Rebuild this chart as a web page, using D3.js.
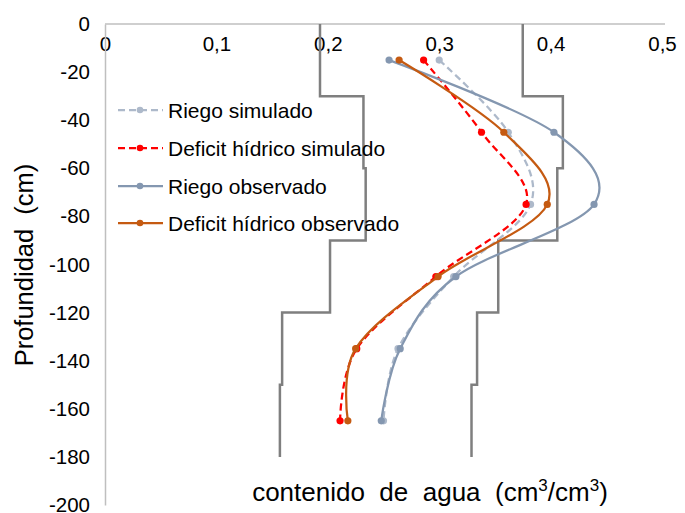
<!DOCTYPE html>
<html>
<head>
<meta charset="utf-8">
<script src="https://cdn.jsdelivr.net/npm/d3@7"></script>
<style>
  html, body { margin: 0; padding: 0; background: #fff; }
  svg { display: block; font-family: "Liberation Sans", Arial, sans-serif; }
</style>
</head>
<body>
<svg id="chart" width="685" height="513"></svg>
<script>
// Soil water content profiles: depth (cm) vs volumetric water content (cm3/cm3)
const depths = [-15, -45, -75, -105, -135, -165];
const riegoSimulado = [0.300, 0.362, 0.382, 0.313, 0.263, 0.250];
const deficitSimulado = [0.286, 0.338, 0.378, 0.297, 0.226, 0.211];
const riegoObservado = [0.255, 0.403, 0.439, 0.315, 0.265, 0.248];
const deficitObservado = [0.264, 0.358, 0.397, 0.299, 0.225, 0.218];

// Layer limits (lower and upper water content per 30 cm soil layer)
const layerTops = [0, -30, -60, -90, -120, -150];
const layerBottoms = [-30, -60, -90, -120, -150, -180];
const limiteInferior = [0.193, 0.232, 0.234, 0.202, 0.159, 0.157];
const limiteSuperior = [0.375, 0.411, 0.406, 0.353, 0.334, 0.329];

const xTicks = [0, 0.1, 0.2, 0.3, 0.4, 0.5];
const yTicks = [0, -20, -40, -60, -80, -100, -120, -140, -160, -180, -200];

const seriesNames = ["Riego simulado", "Deficit hídrico simulado", "Riego observado", "Deficit hídrico observado"];
const seriesValues = [riegoSimulado, deficitSimulado, riegoObservado, deficitObservado];
const seriesColors = ["#ADB9CA", "#FF0000", "#8497B0", "#C55A11"];
const seriesDashed = [true, true, false, false];

const svg = d3.select("#chart");
const x = d3.scaleLinear().domain([0, 0.5]).range([105, 662]);
const y = d3.scaleLinear().domain([0, -200]).range([24, 505]);

const fmt = d => d === 0 ? "0" : d.toFixed(1).replace(".", ",");

// Axes
const xAxis = svg.append("g")
  .attr("transform", `translate(0,${y(0)})`)
  .call(d3.axisBottom(x).tickValues(xTicks).tickFormat(fmt).tickSize(0).tickPadding(12));
xAxis.select(".domain").attr("stroke", "#BFBFBF").attr("stroke-width", 1.5).attr("d", `M${x(0)},0H${x(0.5) + 3}`);
xAxis.selectAll("text").attr("font-size", 20.5).attr("fill", "#000").attr("font-family", "Liberation Sans, Arial, sans-serif");

const yAxis = svg.append("g")
  .attr("transform", `translate(${x(0)},0)`)
  .call(d3.axisLeft(y).tickValues(yTicks).tickFormat(d3.format("d")).tickSize(0).tickPadding(15));
yAxis.select(".domain").attr("stroke", "#BFBFBF").attr("stroke-width", 1.5);
yAxis.selectAll("text").attr("font-size", 20.5).attr("fill", "#000").attr("font-family", "Liberation Sans, Arial, sans-serif")
  .text(d => d === 0 ? "0" : "-" + Math.abs(d));

// Stepped layer limits
function stepPoints(vals) {
  const pts = [];
  vals.forEach((v, i) => {
    pts.push([v, layerTops[i]]);
    pts.push([v, layerBottoms[i]]);
  });
  return pts;
}
const stepLine = d3.line().x(d => x(d[0])).y(d => y(d[1]));
[limiteInferior, limiteSuperior].forEach(vals => {
  svg.append("path")
    .attr("d", stepLine(stepPoints(vals)))
    .attr("fill", "none")
    .attr("stroke", "#7F7F7F")
    .attr("stroke-width", 2.5);
});

// Smoothed profiles
const curve = d3.line()
  .x(d => x(d[0]))
  .y(d => y(d[1]))
  .curve(d3.curveCatmullRom.alpha(0));

seriesValues.forEach((vals, i) => {
  const pts = vals.map((v, j) => [v, depths[j]]);
  svg.append("path")
    .attr("d", curve(pts))
    .attr("fill", "none")
    .attr("stroke", seriesColors[i])
    .attr("stroke-width", 2.25)
    .attr("stroke-dasharray", seriesDashed[i] ? "7,4" : null);
  svg.append("g").selectAll("circle")
    .data(pts).join("circle")
    .attr("cx", d => x(d[0]))
    .attr("cy", d => y(d[1]))
    .attr("r", 3.6)
    .attr("fill", seriesColors[i]);
});

// Legend
const legend = svg.append("g");
const legendRows = [110, 148, 186, 223];
seriesNames.forEach((name, i) => {
  const g = legend.append("g").attr("transform", `translate(0,${legendRows[i]})`);
  g.append("line")
    .attr("x1", 118).attr("x2", 163).attr("y1", 0).attr("y2", 0)
    .attr("stroke", seriesColors[i]).attr("stroke-width", 2.25)
    .attr("stroke-dasharray", seriesDashed[i] ? "7,4" : null);
  g.append("circle").attr("cx", 140).attr("cy", 0).attr("r", 3.3).attr("fill", seriesColors[i]);
  g.append("text").attr("x", 168).attr("y", 7.5).attr("font-size", 21).attr("fill", "#000").text(name);
});

// Axis titles
svg.append("text")
  .attr("transform", `translate(33,265) rotate(-90)`)
  .attr("text-anchor", "middle")
  .attr("font-size", 25.5)
  .attr("fill", "#000")
  .attr("xml:space", "preserve")
  .text("Profundidad  (cm)");

const xt = svg.append("text")
  .attr("x", 430).attr("y", 501)
  .attr("text-anchor", "middle")
  .attr("font-size", 26)
  .attr("fill", "#000")
  .attr("xml:space", "preserve");
xt.append("tspan").text("contenido  de  agua  (cm");
xt.append("tspan").attr("font-size", 17).attr("dy", -10).text("3");
xt.append("tspan").attr("dy", 10).text("/cm");
xt.append("tspan").attr("font-size", 17).attr("dy", -10).text("3");
xt.append("tspan").attr("dy", 10).text(")");
</script>
</body>
</html>
